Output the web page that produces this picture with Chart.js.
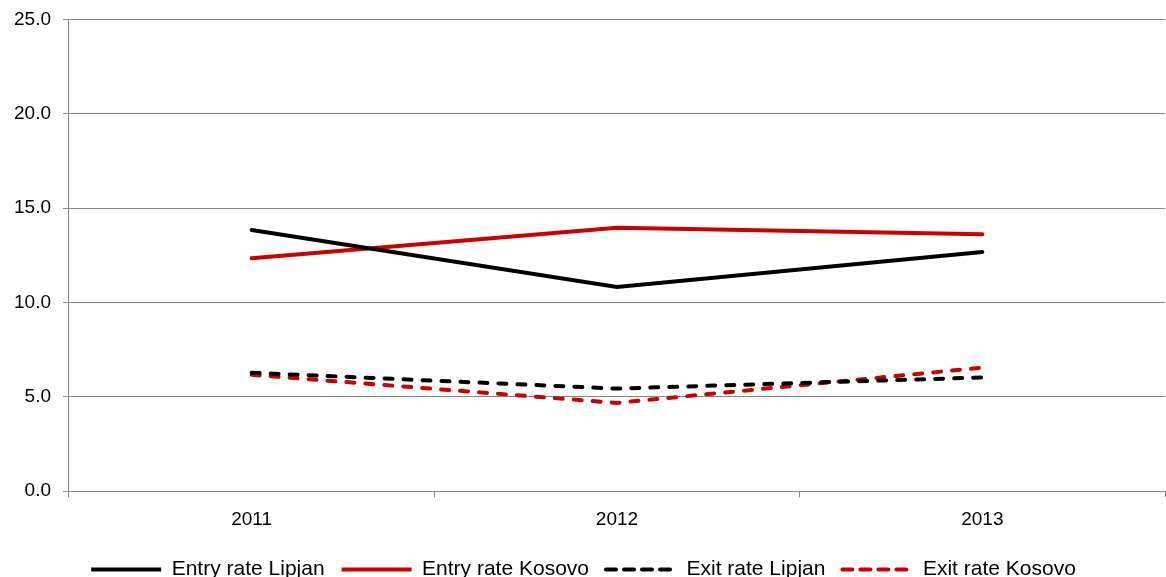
<!DOCTYPE html>
<html>
<head>
<meta charset="utf-8">
<script src="https://cdn.jsdelivr.net/npm/chart.js@4.4.0/dist/chart.umd.min.js"></script>
<style>
  html, body { margin: 0; padding: 0; background: #fff; }
  #wrap { width: 1166px; height: 577px; }
</style>
</head>
<body>
<div id="wrap"><canvas id="mycanvas"></canvas></div>
<script>
var years = ["2011", "2012", "2013"];
var entryLipjan = [13.85, 10.83, 12.68];
var entryKosovo = [12.35, 13.97, 13.62];
var exitLipjan = [6.28, 5.44, 6.03];
var exitKosovo = [6.17, 4.68, 6.55];
var yTicks = [0, 5, 10, 15, 20, 25];

var ctx = document.getElementById("mycanvas");
var font = "'Liberation Sans', Arial, sans-serif";

var chartdata = {
	labels: years,
	datasets: [
		{ label: "Entry rate Lipjan", data: entryLipjan, borderColor: "#000000", backgroundColor: "#000000", borderWidth: 4, borderCapStyle: "round" },
		{ label: "Entry rate Kosovo", data: entryKosovo, borderColor: "#cc0000", backgroundColor: "#cc0000", borderWidth: 4, borderCapStyle: "round" },
		{ label: "Exit rate Lipjan", data: exitLipjan, borderColor: "#000000", backgroundColor: "#000000", borderWidth: 4, borderDash: [8, 11], borderCapStyle: "round" },
		{ label: "Exit rate Kosovo", data: exitKosovo, borderColor: "#cc0000", backgroundColor: "#cc0000", borderWidth: 4, borderDash: [8, 11], borderCapStyle: "round" }
	]
};

var Graph = new Chart(ctx, {
	type: "line",
	data: chartdata,
	options: {
		responsive: true,
		maintainAspectRatio: false,
		animation: false,
		elements: { point: { radius: 0, hoverRadius: 0 }, line: { tension: 0 } },
		layout: { padding: { left: 2, right: 1, top: 0, bottom: -13 } },
		plugins: {
			tooltip: { enabled: false },
			legend: {
				position: "bottom",
				labels: {
					usePointStyle: true,
					pointStyle: "line",
					pointStyleWidth: 70,
					color: "#000",
					padding: 17,
					font: { family: font, size: 21 },
					generateLabels: function(chart) {
						return chart.data.datasets.map(function(ds, i) {
							return {
								text: ds.label,
								datasetIndex: i,
								fillStyle: ds.borderColor,
								strokeStyle: ds.borderColor,
								fontColor: "#000",
								lineWidth: ds.borderWidth,
								lineDash: ds.borderDash ? [10, 8] : [],
								lineCap: ds.borderDash ? "round" : "butt",
								pointStyle: "line",
								hidden: false
							};
						});
					}
				}
			}
		},
		scales: {
			x: {
				offset: true,
				grid: { display: true, drawOnChartArea: false, offset: true, color: "#888", tickLength: 6 },
				border: { display: false },
				ticks: { color: "#000", padding: 11, font: { family: font, size: 19 } }
			},
			y: {
				min: 0,
				max: 25,
				afterBuildTicks: function(axis) { axis.ticks = yTicks.map(function(v) { return { value: v }; }); },
				grid: { color: "#888", lineWidth: 1, tickLength: 6 },
				border: { color: "#888", width: 1 },
				ticks: {
					color: "#000",
					padding: 12,
					font: { family: font, size: 19, lineHeight: 0.8 },
					callback: function(v) { return Number(v).toFixed(1); }
				}
			}
		}
	}
});
</script>
</body>
</html>
